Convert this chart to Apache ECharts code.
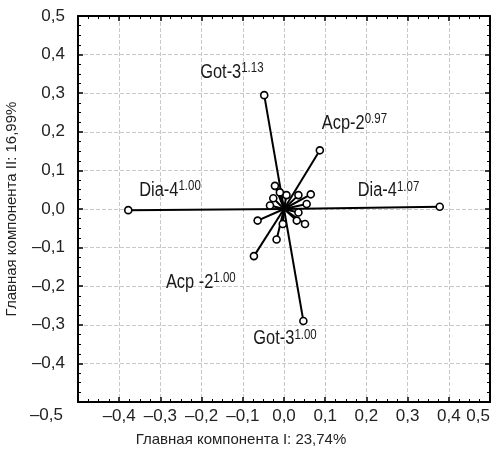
<!DOCTYPE html>
<html>
<head>
<meta charset="utf-8">
<script src="https://cdn.jsdelivr.net/npm/echarts@6/dist/echarts.min.js"></script>
<style>
  html, body { margin: 0; padding: 0; background: #fff; }
  #chart { width: 495px; height: 455px; }
</style>
</head>
<body>
<div id="chart"></div>
<script>
// loadings on PC I / PC II
const pc1 = [-0.378, 0.378, -0.048, 0.087, 0.047, -0.073,
  -0.018, -0.064, 0.051, 0.065, 0.035, 0.006, -0.022, -0.026, -0.034, 0.035, -0.003, 0.055, 0.031, -0.010]
const pc2 = [-0.003, 0.006, 0.295, 0.152, -0.290, -0.122,
  -0.079, -0.030, -0.039, 0.038, 0.036, 0.036, 0.060, 0.028, 0.009, -0.009, -0.039, 0.013, -0.030, 0.043]
const locusNames = ['Dia-4', 'Dia-4', 'Got-3', 'Acp-2', 'Got-3', 'Acp -2']
const alleleSups = ['1.00', '1.07', '1.13', '0.97', '1.00', '1.00']
// label placement relative to the arrow tip (px)
const labelShift = [[11, -20], [-82, -16], [-64, -23], [2, -27], [-50, 18], [-88, 26]]

const font = '"Liberation Sans", Arial, sans-serif'
const fmt = v => {
  if (Math.abs(v) < 1e-9) v = 0
  return v.toFixed(1).replace('.', ',').replace('-', '\u2013')
}

const chart = echarts.init(document.getElementById('chart'))

const tickCommon = {
  axisLine: { show: true, onZero: false, lineStyle: { color: '#000', width: 2 } },
  axisTick: { show: true, inside: true, length: 5, lineStyle: { color: '#000', width: 1.5 } },
  minorTick: { show: true, splitNumber: 4, length: 3, lineStyle: { color: '#000', width: 1 } }
}
const gridLine = { show: true, lineStyle: { color: '#c8c8c8', type: [4, 2], width: 1 } }

const data = pc1.map((x, i) => [x, pc2[i], i])

chart.setOption({
  animation: false,
  grid: { left: 78, right: 5, top: 16, bottom: 53, containLabel: false, outerBoundsMode: 'none' },
  xAxis: [
    {
      type: 'value', min: -0.5, max: 0.5, interval: 0.1, position: 'bottom',
      ...tickCommon,
      axisLabel: {
        margin: 6, color: '#222', fontSize: 17, fontFamily: font,
        showMinLabel: false, alignMaxLabel: 'right',
        formatter: fmt
      },
      splitLine: gridLine,
      name: 'Главная компонента I: 23,74%',
      nameLocation: 'middle', nameGap: 30,
      nameTextStyle: { color: '#222', fontSize: 15, fontFamily: font, padding: [0, 86, 0, 0] }
    },
    {
      type: 'value', min: -0.5, max: 0.5, interval: 0.1, position: 'top',
      ...tickCommon,
      axisLabel: { show: false },
      splitLine: { show: false }
    }
  ],
  yAxis: [
    {
      type: 'value', min: -0.5, max: 0.5, interval: 0.1, position: 'left',
      ...tickCommon,
      axisLabel: {
        margin: 13, color: '#222', fontSize: 17, fontFamily: font,
        formatter: v => Math.abs(v + 0.5) < 1e-9 ? '{d|' + fmt(v) + '}' : fmt(v),
        rich: { d: { fontSize: 17, fontFamily: font, color: '#222', padding: [26, 2, 0, 0] } }
      },
      splitLine: gridLine,
      name: 'Главная компонента II: 16,99%',
      nameLocation: 'middle', nameGap: 58,
      nameTextStyle: { color: '#222', fontSize: 15, fontFamily: font }
    },
    {
      type: 'value', min: -0.5, max: 0.5, interval: 0.1, position: 'right',
      ...tickCommon,
      axisLabel: { show: false },
      splitLine: { show: false }
    }
  ],
  series: [
    {
      type: 'custom',
      coordinateSystem: 'cartesian2d',
      data: data,
      z: 5,
      renderItem: (params, api) => {
        const o = api.coord([0, 0])
        const p = api.coord([api.value(0), api.value(1)])
        const i = api.value(2)
        const children = [
          { type: 'line', shape: { x1: o[0], y1: o[1], x2: p[0], y2: p[1] }, style: { stroke: '#000', lineWidth: 2 } },
          { type: 'circle', shape: { cx: p[0], cy: p[1], r: 3.5 }, style: { fill: '#fff', stroke: '#000', lineWidth: 1.6 } }
        ]
        if (locusNames[i]) {
          children.push({
            type: 'text',
            x: p[0] + labelShift[i][0],
            y: p[1] + labelShift[i][1],
            scaleX: 0.82,
            style: {
              text: '{m|' + locusNames[i] + '}{s|' + alleleSups[i] + '}',
              align: 'left', verticalAlign: 'middle',
              rich: {
                m: { fontSize: 20, fontFamily: font, fill: '#1a1a1a', color: '#1a1a1a' },
                s: { fontSize: 14, fontFamily: font, fill: '#1a1a1a', color: '#1a1a1a', padding: [0, 0, 8, 0] }
              }
            }
          })
        }
        return { type: 'group', children: children }
      }
    }
  ]
})
</script>
</body>
</html>
